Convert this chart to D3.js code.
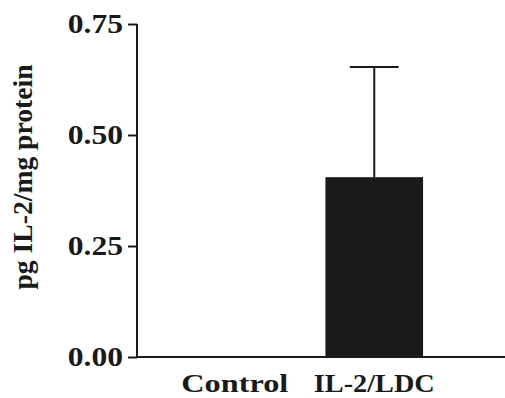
<!DOCTYPE html>
<html>
<head>
<meta charset="utf-8">
<script src="https://cdn.jsdelivr.net/npm/d3@7"></script>
<style>
  body { margin: 0; background: #fff; }
  text { font-family: "Liberation Serif", "Times New Roman", serif; font-weight: bold; fill: #1a1a1a; }
</style>
</head>
<body>
<div id="chart"></div>
<script>
const groups = ['Control', 'IL-2/LDC'];
const means = [0, 0.405];
const errs = [0, 0.248];
const yTicks = [0, 0.25, 0.5, 0.75];
const yLabel = 'pg IL-2/mg protein';

const width = 505, height = 398;
const ink = '#1a1a1a';
const stretch = 1.17; // glyphs in the original are wider than normal
const catWidths = {'Control': 107, 'IL-2/LDC': 121};

const svg = d3.select('#chart')
    .append('svg')
    .attr('width', width)
    .attr('height', height);

const yScale = d3.scaleLinear()
    .domain([0, 0.75])
    .range([357, 24]);

const xScale = d3.scaleBand()
    .domain(groups)
    .range([165, 444])
    .paddingInner(0.3)
    .paddingOuter(0.15);

function widen(sel) {
    sel.each(function () {
        const len = this.getComputedTextLength();
        d3.select(this)
            .attr('textLength', len * stretch)
            .attr('lengthAdjust', 'spacingAndGlyphs');
    });
}

// bars
svg.selectAll('.bar')
    .data(groups)
    .enter()
    .append('rect')
    .attr('class', 'bar')
    .attr('x', d => xScale(d))
    .attr('width', xScale.bandwidth())
    .attr('y', (d, i) => yScale(means[i]))
    .attr('height', (d, i) => yScale(0) - yScale(means[i]))
    .attr('fill', ink);

// error bars, upper side only
const withErr = groups.map((g, i) => ({g, m: means[i], e: errs[i]})).filter(d => d.e > 0);
const eb = svg.selectAll('.err')
    .data(withErr)
    .enter()
    .append('g')
    .attr('class', 'err');

eb.append('line')
    .attr('x1', d => xScale(d.g) + xScale.bandwidth() / 2)
    .attr('x2', d => xScale(d.g) + xScale.bandwidth() / 2)
    .attr('y1', d => yScale(d.m))
    .attr('y2', d => yScale(d.m + d.e))
    .attr('stroke', ink)
    .attr('stroke-width', 2);

eb.append('line')
    .attr('x1', d => xScale(d.g) + xScale.bandwidth() / 4)
    .attr('x2', d => xScale(d.g) + xScale.bandwidth() * 3 / 4)
    .attr('y1', d => yScale(d.m + d.e))
    .attr('y2', d => yScale(d.m + d.e))
    .attr('stroke', ink)
    .attr('stroke-width', 2);

// y axis
const yAxis = svg.append('g')
    .attr('transform', 'translate(137,0)')
    .call(d3.axisLeft(yScale).tickValues(yTicks).tickFormat(d3.format('.2f')).tickSize(9).tickPadding(5));
yAxis.attr('font-family', null);
yAxis.select('.domain').attr('stroke', ink).attr('stroke-width', 2)
    .attr('d', `M0,${yScale(0.75)}V${yScale(0)}`);
yAxis.selectAll('.tick line').attr('stroke', ink).attr('stroke-width', 2);
yAxis.selectAll('.tick text')
    .attr('font-size', 27)
    .attr('fill', ink)
    .call(widen);

// x axis
const xAxis = svg.append('g')
    .attr('transform', `translate(0,${yScale(0)})`)
    .call(d3.axisBottom(xScale).tickSize(0).tickPadding(17));
xAxis.attr('font-family', null);
xAxis.select('.domain').attr('stroke', ink).attr('stroke-width', 2)
    .attr('d', `M136,0H${width}`);
xAxis.selectAll('.tick text')
    .attr('font-size', 26)
    .attr('fill', ink)
    .attr('textLength', d => catWidths[d])
    .attr('lengthAdjust', 'spacingAndGlyphs');

// y label
svg.append('text')
    .attr('transform', 'translate(32,177) rotate(-90)')
    .attr('text-anchor', 'middle')
    .attr('font-size', 27)
    .attr('textLength', 225)
    .attr('lengthAdjust', 'spacingAndGlyphs')
    .text(yLabel);
</script>
</body>
</html>
